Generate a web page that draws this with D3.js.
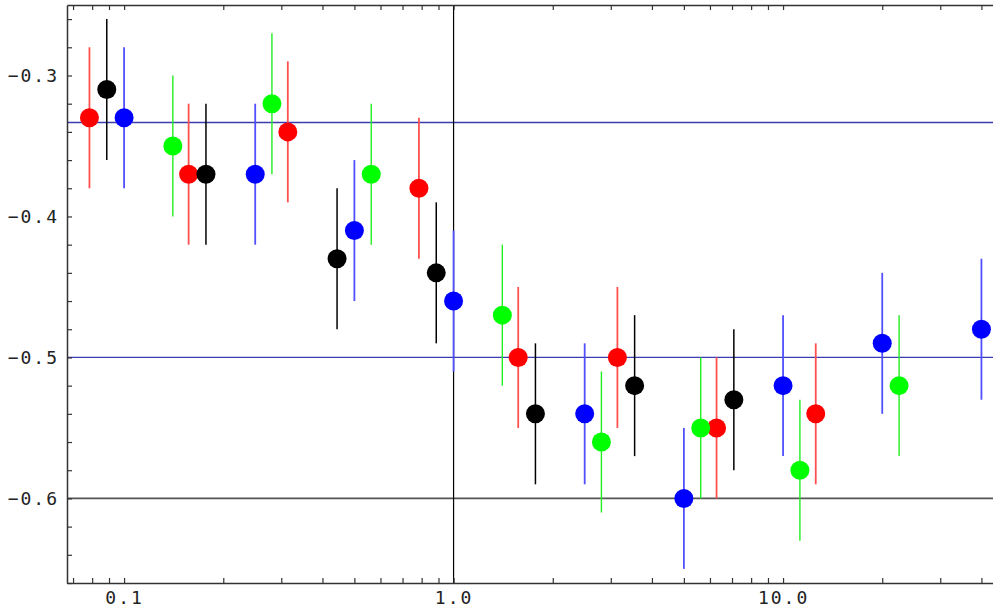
<!DOCTYPE html>
<html>
<head>
<meta charset="utf-8">
<script src="https://cdn.jsdelivr.net/npm/d3@7"></script>
<style>
  html, body { margin: 0; padding: 0; background: #fff; }
  svg { display: block; }
  .tick text { font-family: "DejaVu Sans Mono", monospace; font-size: 18px; letter-spacing: 2px; fill: #222; }
</style>
</head>
<body>
<script>
// Measurements of four series: x positions (log scale) and central values, each with a ±0.05 error bar
const redX   = [0.0785, 0.157, 0.314, 0.785, 1.571, 3.142, 6.283, 12.566];
const redY   = [-0.33, -0.37, -0.34, -0.38, -0.50, -0.50, -0.55, -0.54];
const blackX = [0.0886, 0.1772, 0.443, 0.886, 1.772, 3.544, 7.09];
const blackY = [-0.31, -0.37, -0.43, -0.44, -0.54, -0.52, -0.53];
const blueX  = [0.1, 0.25, 0.5, 1.0, 2.5, 5.0, 10.0, 20.0, 40.0];
const blueY  = [-0.33, -0.37, -0.41, -0.46, -0.54, -0.60, -0.52, -0.49, -0.48];
const greenX = [0.1406, 0.281, 0.5625, 1.406, 2.81, 5.625, 11.25, 22.5];
const greenY = [-0.35, -0.32, -0.37, -0.47, -0.56, -0.55, -0.58, -0.52];
const errorHalf = 0.05;

// Reference lines
const hLinesBlue = [-1/3, -0.5];
const hLineGray = -0.6;
const vLine = 1.0;

// Axis ticks
const xMajorTicks = [0.1, 1.0, 10.0];
const xTickLabels = ["0.1", "1.0", "10.0"];
const yMajorTicks = [-0.3, -0.4, -0.5, -0.6];
const yTickLabels = ["\u22120.3", "\u22120.4", "\u22120.5", "\u22120.6"];

const series = [
  { x: redX,   y: redY,   fill: "#ff0000", bar: "#ff5050", barWidth: 1.8 },
  { x: blackX, y: blackY, fill: "#000000", bar: "#000000", barWidth: 1.5 },
  { x: blueX,  y: blueY,  fill: "#0000ff", bar: "#5050ff", barWidth: 1.8 },
  { x: greenX, y: greenY, fill: "#00ff00", bar: "#22ee22", barWidth: 1.4 }
];

const W = 993, H = 613;
const mLeft = 67, mTop = 5, mBottom = 583, mRight = 997;

const x = d3.scaleLog().domain([0.0671, 44.6]).range([mLeft, mRight]);
const y = d3.scaleLinear().domain([-0.66, -0.25]).range([mBottom, mTop]);

const svg = d3.select("body").append("svg").attr("width", W).attr("height", H);

// All tick positions along the log axis (1..9 in each decade)
const xAllTicks = [];
[0.01, 0.1, 1, 10].forEach(d => {
  for (let k = 1; k <= 9; k++) {
    const v = +(d * k).toPrecision(3);
    if (v >= x.domain()[0] && v <= x.domain()[1]) xAllTicks.push(v);
  }
});
const yAllTicks = d3.range(-0.66, -0.2499, 0.02).map(v => +v.toFixed(2));

const labelFor = (vals, labels) => d => {
  const i = vals.findIndex(v => Math.abs(v - d) < 1e-9);
  return i >= 0 ? labels[i] : "";
};

// Reference lines
svg.append("g").selectAll("line").data(hLinesBlue).join("line")
  .attr("x1", mLeft).attr("x2", W)
  .attr("y1", d => y(d)).attr("y2", d => y(d))
  .attr("stroke", "#3c3cb0").attr("stroke-width", 1.3);
svg.append("line")
  .attr("x1", mLeft).attr("x2", W)
  .attr("y1", y(hLineGray)).attr("y2", y(hLineGray))
  .attr("stroke", "#555").attr("stroke-width", 1.6);
svg.append("line")
  .attr("x1", x(vLine)).attr("x2", x(vLine))
  .attr("y1", mTop).attr("y2", mBottom)
  .attr("stroke", "#000").attr("stroke-width", 1.2);

// Axes
const gB = svg.append("g").attr("transform", `translate(0,${mBottom})`)
  .call(d3.axisBottom(x).tickValues(xAllTicks).tickSizeInner(-5).tickSizeOuter(0).tickPadding(8)
    .tickFormat(labelFor(xMajorTicks, xTickLabels)));
const gT = svg.append("g").attr("transform", `translate(0,${mTop})`)
  .call(d3.axisTop(x).tickValues(xAllTicks).tickSizeInner(-5).tickSizeOuter(0).tickFormat(""));
const gL = svg.append("g").attr("transform", `translate(${mLeft},0)`)
  .call(d3.axisLeft(y).tickValues(yAllTicks).tickSizeInner(-5).tickSizeOuter(0).tickPadding(8)
    .tickFormat(labelFor(yMajorTicks, yTickLabels)));
[gB, gT, gL].forEach(g => {
  g.attr("font-family", null).attr("font-size", null);
  g.select(".domain").attr("stroke", "#333").attr("stroke-width", 1.5);
  g.selectAll(".tick line").attr("stroke", "#333").attr("stroke-width", 1.2);
  g.selectAll(".tick text").attr("fill", "#222");
});

// Error bars and points
series.forEach(s => {
  const pts = s.x.map((xv, i) => ({ x: xv, y: s.y[i] }));
  const g = svg.append("g");
  g.selectAll("line").data(pts).join("line")
    .attr("x1", d => x(d.x)).attr("x2", d => x(d.x))
    .attr("y1", d => y(d.y - errorHalf)).attr("y2", d => y(d.y + errorHalf))
    .attr("stroke", s.bar).attr("stroke-width", s.barWidth);
  g.selectAll("circle").data(pts).join("circle")
    .attr("cx", d => x(d.x)).attr("cy", d => y(d.y)).attr("r", 9.5)
    .attr("fill", s.fill);
});
</script>
</body>
</html>
